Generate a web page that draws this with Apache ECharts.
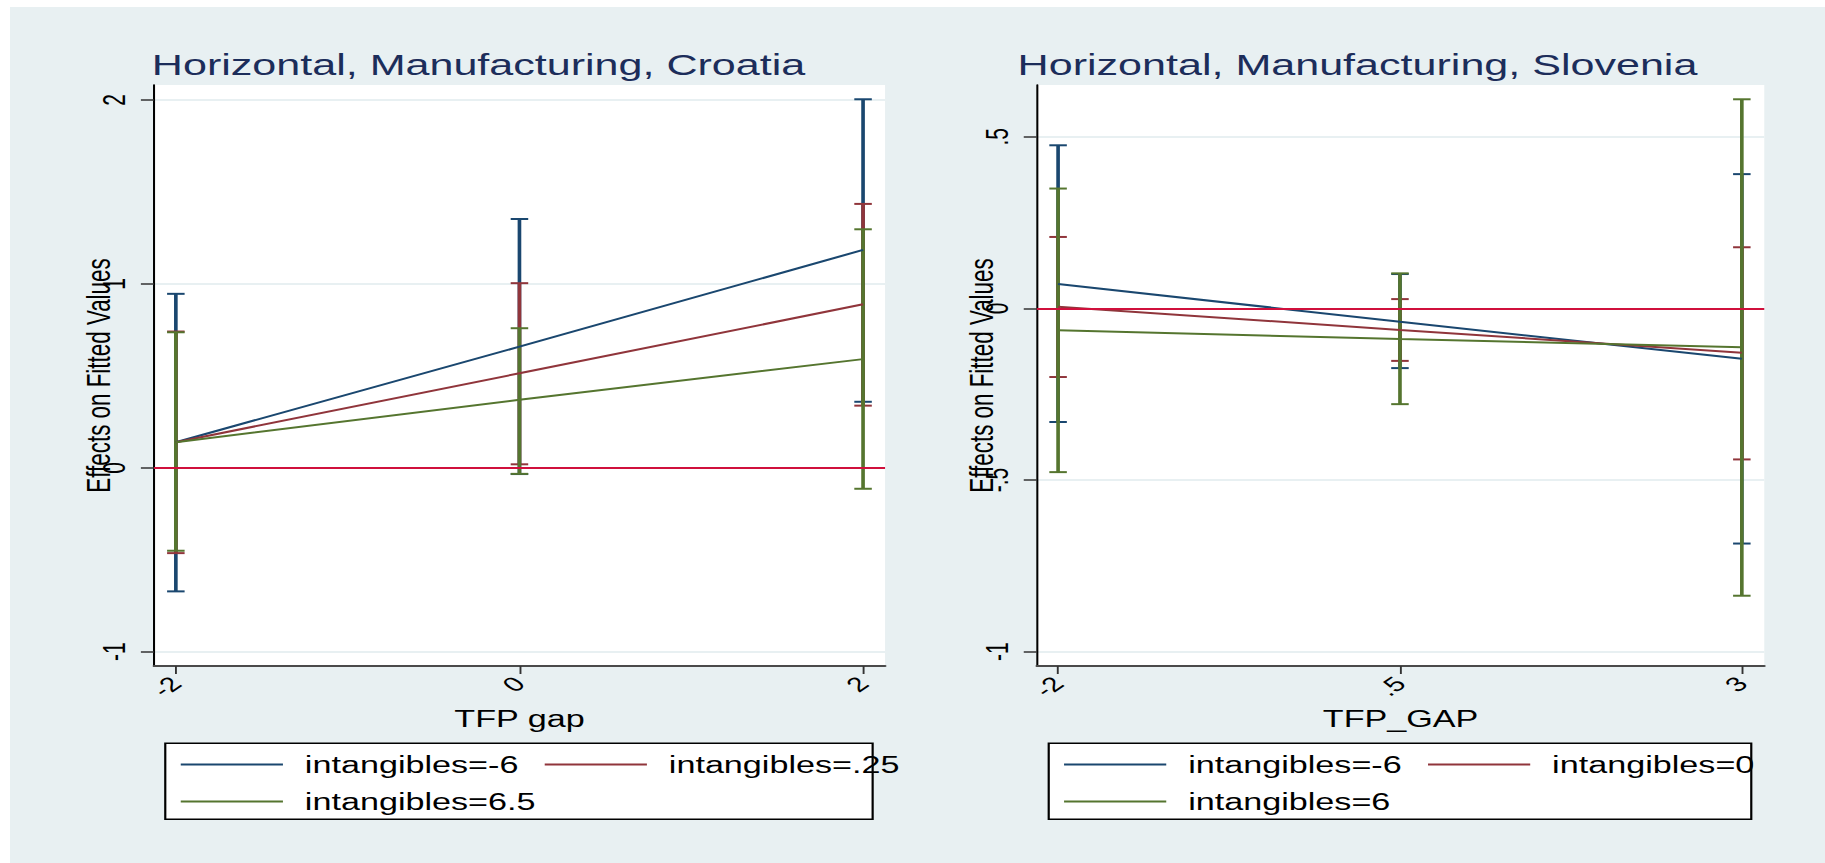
<!DOCTYPE html>
<html>
<head>
<meta charset="utf-8">
<title>Horizontal, Manufacturing: Croatia and Slovenia</title>
<script src="https://cdn.jsdelivr.net/npm/echarts@6/dist/echarts.min.js"></script>
<style>
  html, body { margin: 0; padding: 0; background: #ffffff; overflow: hidden; }
  #backdrop { position: absolute; left: 10px; top: 7px; right: 0; bottom: 0; background: #E8F0F2; }
  /* the graph is laid out 1250 wide and widened to the full 1825 page */
  #chart { position: absolute; left: 0; top: 0; width: 1250px; height: 863px;
           transform: scaleX(1.46); transform-origin: 0 0; }
</style>
</head>
<body>
<div id="backdrop"></div>
<div id="chart"></div>
<script>
// ---------- Croatia (TFP gap = -2, 0, 2) ----------
const hrTfp = [-2, 0, 2];
const hrTfpLabels = ['-2', '0', '2'];
const hrYTicks = [-1, 0, 1, 2];
const hrYTickLabels = ['-1', '0', '1', '2'];
const hrNames = ['intangibles=-6', 'intangibles=.25', 'intangibles=6.5'];

const hrFitNeg6 = [0.139, 0.659, 1.185];
const hrLoNeg6  = [-0.672, -0.034, 0.359];
const hrHiNeg6  = [0.946, 1.353, 2.004];

const hrFitP25 = [0.139, 0.514, 0.889];
const hrLoP25  = [-0.464, 0.019, 0.338];
const hrHiP25  = [0.741, 1.004, 1.435];

const hrFit65 = [0.139, 0.370, 0.591];
const hrLo65  = [-0.451, -0.033, -0.114];
const hrHi65  = [0.737, 0.759, 1.297];

// ---------- Slovenia (TFP_GAP = -2, .5, 3) ----------
const siTfp = [-2, 0.5, 3];
const siTfpLabels = ['-2', '.5', '3'];
const siYTicks = [-1, -0.5, 0, 0.5];
const siYTickLabels = ['-1', '-.5', '0', '.5'];
const siNames = ['intangibles=-6', 'intangibles=0', 'intangibles=6'];

const siFitNeg6 = [0.071, -0.039, -0.147];
const siLoNeg6  = [-0.331, -0.174, -0.685];
const siHiNeg6  = [0.475, 0.100, 0.391];

const siFit0 = [0.005, -0.063, -0.129];
const siLo0  = [-0.200, -0.153, -0.440];
const siHi0  = [0.208, 0.027, 0.178];

const siFit6 = [-0.064, -0.089, -0.113];
const siLo6  = [-0.477, -0.279, -0.837];
const siHi6  = [0.349, 0.102, 0.609];

// ---------- styling ----------
const FONT = 'Liberation Sans, Arial, sans-serif';
const NAVY = '#1A476F', MAROON = '#90353B', FOREST = '#55752F';
const ZERO_RED = '#D0103C';
const GRID_LINE = '#E8F0F2';
const TITLE_COLOR = '#1C2D5A';

function pairs(xs, ys) { return xs.map((x, i) => [x, ys[i]]); }
function triples(xs, lo, hi) { return xs.map((x, i) => [x, lo[i], hi[i]]); }
function labelFor(values, labels) {
  return v => {
    const i = values.findIndex(t => Math.abs(t - v) < 1e-9);
    return i >= 0 ? labels[i] : '';
  };
}

// confidence interval: vertical bar with a cap at each end
function ciSeries(name, color, idx, xs, lo, hi) {
  return {
    name: name, type: 'custom', xAxisIndex: idx, yAxisIndex: idx, z: 2,
    silent: true,
    data: triples(xs, lo, hi),
    encode: { x: 0, y: [1, 2] },
    renderItem: function (params, api) {
      const x = api.value(0);
      const top = api.coord([x, api.value(2)]);
      const bot = api.coord([x, api.value(1)]);
      const hw = 6;
      return {
        type: 'group',
        children: [
          { type: 'line', shape: { x1: top[0], y1: top[1], x2: bot[0], y2: bot[1] },
            style: { stroke: color, lineWidth: 2.5, fill: null } },
          { type: 'line', shape: { x1: top[0] - hw, y1: top[1], x2: top[0] + hw, y2: top[1] },
            style: { stroke: color, lineWidth: 2, fill: null } },
          { type: 'line', shape: { x1: bot[0] - hw, y1: bot[1], x2: bot[0] + hw, y2: bot[1] },
            style: { stroke: color, lineWidth: 2, fill: null } }
        ]
      };
    }
  };
}

function fitSeries(name, color, idx, xs, ys) {
  return {
    name: name, type: 'line', xAxisIndex: idx, yAxisIndex: idx, z: 3,
    data: pairs(xs, ys), symbol: 'none', showSymbol: false, silent: true,
    color: color, lineStyle: { color: color, width: 2 },
    animation: false
  };
}

function zeroLine(idx) {
  return {
    name: 'zero' + idx, type: 'line', xAxisIndex: idx, yAxisIndex: idx, z: 1,
    data: [], silent: true,
    markLine: {
      silent: true, symbol: ['none', 'none'], label: { show: false },
      lineStyle: { color: ZERO_RED, width: 2.2, type: 'solid' },
      data: [{ yAxis: 0 }], animation: false
    }
  };
}

function xAxis(idx, min, max, ticks, labels, title) {
  return {
    type: 'value', gridIndex: idx, min: min, max: max,
    axisLine: { show: true, onZero: false, lineStyle: { color: '#4a4a4a', width: 2 } },
    axisTick: { show: true, customValues: ticks, length: 8, lineStyle: { color: '#333', width: 1.3 } },
    axisLabel: { show: true, customValues: ticks, rotate: 45, margin: 14,
                 fontSize: 20.5, fontFamily: FONT, color: '#000',
                 formatter: labelFor(ticks, labels) },
    splitLine: { show: false },
    name: title, nameLocation: 'middle', nameGap: 40.7, nameMoveOverlap: false,
    nameTextStyle: { fontSize: 23.4, fontFamily: FONT, color: '#000' }
  };
}

function yAxis(idx, min, max, ticks, labels) {
  return {
    type: 'value', gridIndex: idx, min: min, max: max,
    axisLine: { show: true, onZero: false, lineStyle: { color: '#000', width: 1.4 } },
    axisTick: { show: true, customValues: ticks, length: 9, lineStyle: { color: '#333', width: 1.5 } },
    axisLabel: { show: true, customValues: ticks, rotate: 90, margin: 16.5,
                 fontSize: 21, fontFamily: FONT, color: '#000',
                 formatter: labelFor(ticks, labels) },
    splitLine: { show: true, lineStyle: { color: GRID_LINE, width: 2 } },
    name: 'Effects on Fitted Values', nameLocation: 'middle', nameGap: 27,
    nameMoveOverlap: false,
    nameTextStyle: { fontSize: 22.4, fontFamily: FONT, color: '#000' }
  };
}

function legend(left, names) {
  return {
    data: names, left: left, top: 753, width: 500, padding: 0,
    orient: 'horizontal', selectedMode: false,
    icon: 'rect', itemWidth: 70, itemHeight: 2, itemGap: 14,
    textStyle: { fontSize: 23.4, fontFamily: FONT, color: '#000',
                 padding: [0, 4, 0, 10], lineHeight: 14 }
  };
}

const option = {
  animation: false,
  backgroundColor: 'transparent',
  textStyle: { fontFamily: FONT },
  title: [
    { text: 'Horizontal, Manufacturing, Croatia', left: 104, top: 50, padding: 0,
      textStyle: { fontSize: 29.5, fontWeight: 'normal', fontFamily: FONT, color: TITLE_COLOR } },
    { text: 'Horizontal, Manufacturing, Slovenia', left: 697, top: 50, padding: 0,
      textStyle: { fontSize: 29.5, fontWeight: 'normal', fontFamily: FONT, color: TITLE_COLOR } }
  ],
  grid: [
    { left: 105.5, top: 85, width: 500.7, height: 581, show: true, backgroundColor: '#ffffff',
      borderWidth: 0, outerBoundsMode: 'none', containLabel: false },
    { left: 710.2, top: 85, width: 498.2, height: 581, show: true, backgroundColor: '#ffffff',
      borderWidth: 0, outerBoundsMode: 'none', containLabel: false }
  ],
  xAxis: [
    xAxis(0, -2.127, 2.128, hrTfp, hrTfpLabels, 'TFP gap'),
    xAxis(1, -2.155, 3.164, siTfp, siTfpLabels, 'TFP_GAP')
  ],
  yAxis: [
    yAxis(0, -1.0778, 2.0816, hrYTicks, hrYTickLabels),
    yAxis(1, -1.0417, 0.6506, siYTicks, siYTickLabels)
  ],
  legend: [legend(123.8, hrNames), legend(728.8, siNames)],
  graphic: [
    { type: 'rect', z: 0, shape: { x: 113.2, y: 743.3, width: 484.5, height: 76 },
      style: { fill: '#ffffff', stroke: '#000', lineWidth: 1.5 } },
    { type: 'rect', z: 0, shape: { x: 718.3, y: 743.3, width: 481.2, height: 76 },
      style: { fill: '#ffffff', stroke: '#000', lineWidth: 1.5 } }
  ],
  series: [
    zeroLine(0),
    ciSeries('CI ' + hrNames[0], NAVY, 0, hrTfp, hrLoNeg6, hrHiNeg6),
    ciSeries('CI ' + hrNames[1], MAROON, 0, hrTfp, hrLoP25, hrHiP25),
    ciSeries('CI ' + hrNames[2], FOREST, 0, hrTfp, hrLo65, hrHi65),
    fitSeries(hrNames[0], NAVY, 0, hrTfp, hrFitNeg6),
    fitSeries(hrNames[1], MAROON, 0, hrTfp, hrFitP25),
    fitSeries(hrNames[2], FOREST, 0, hrTfp, hrFit65),

    zeroLine(1),
    ciSeries('CI S ' + siNames[0], NAVY, 1, siTfp, siLoNeg6, siHiNeg6),
    ciSeries('CI S ' + siNames[1], MAROON, 1, siTfp, siLo0, siHi0),
    ciSeries('CI S ' + siNames[2], FOREST, 1, siTfp, siLo6, siHi6),
    fitSeries(siNames[0], NAVY, 1, siTfp, siFitNeg6),
    fitSeries(siNames[1], MAROON, 1, siTfp, siFit0),
    fitSeries(siNames[2], FOREST, 1, siTfp, siFit6)
  ]
};

const chart = echarts.init(document.getElementById('chart'), null,
  { renderer: 'svg', width: 1250, height: 863 });
chart.setOption(option);
</script>
</body>
</html>
